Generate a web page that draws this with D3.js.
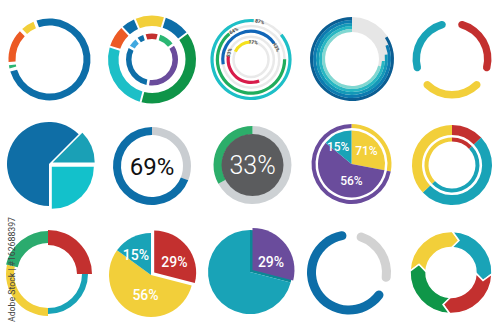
<!DOCTYPE html>
<html>
<head>
<meta charset="utf-8">
<title>Circle chart set</title>
<style>
* { margin: 0; padding: 0; }
body { background: #fff; }
svg { display: block; }
text { font-family: Roboto, "Open Sans", sans-serif; }
</style>
</head>
<body>
<div id="wrapper"></div>
<script src="https://cdn.jsdelivr.net/npm/d3@7/dist/d3.min.js"></script>
<script>

// ---- values (percent unless noted) ----
var ring1Values = [5.5, 76, 1.5, 13.5];            // yellow, blue, green, orange
var ring2OuterValues = [38, 34, 140, 90, 28, 18];   // degrees, clockwise from top
var ring2InnerValues = [28, 35, 130, 105, 20, 15];
var barValues = [87, 64, 43, 33, 17];               // concentric progress arcs
var barStarts = [4, -40, 55, 278, -2];              // degrees where each arc begins
var stepValues = [84, 81, 77, 74, 71];              // stepped bands, outer -> inner
var triValues = [1, 1, 1];
var pieValues = [62.5, 12.5, 25];
var donut69 = [31, 69];
var donut33 = [67, 33];
var splitPie = [28, 58, 14];
var splitRing = [28, 72];
var splitLabels = ['71%', '56%', '15%'];
var doubleRing = [13, 50, 37];
var spiralValues = [25, 25, 28.5, 21.5];
var explodedPie = [29, 56, 15];
var explodedLabels = ['29%', '56%', '15%'];
var quarterPie = [29, 71];
var gaugeValues = [27, 67];
var cycleValues = [25, 25, 25, 25];

// ---- palette ----
var c = {
	blue: '#0d6ea8', yellow: '#f2cf3a', orange: '#ec5a24', green: '#2bb673',
	cyan: '#1dbfc7', dgreen: '#0f9448', red: '#c3302f', purple: '#6a4c9c',
	lblue: '#41a8e0', teal: '#19a3b7', gray: '#cbcfd3'
};

var deg = d3.scaleLinear().domain( [ 0, 360 ] ).range( [ 0, 2 * Math.PI ] );
var turn = d3.scaleLinear().domain( [ 0, 100 ] ).range( [ 0, 2 * Math.PI ] );

var svg = d3.select( '#wrapper' ).append( 'svg' )
	.attr( 'width', 500 )
	.attr( 'height', 334 );
svg.append( 'rect' ).attr( 'width', 500 ).attr( 'height', 334 ).attr( 'fill', '#fff' );

function cell( x, y ) {
	return svg.append( 'g' ).attr( 'transform', 'translate(' + x + ',' + y + ')' );
}

function ring( g, values, colors, o ) {
	var pie = d3.pie().sort( null ).value( function ( d ) { return d; } )
		.startAngle( o.start || 0 )
		.endAngle( ( o.start || 0 ) + 2 * Math.PI )
		.padAngle( o.pad || 0 );
	var arc = d3.arc().innerRadius( o.r0 ).outerRadius( o.r1 ).cornerRadius( o.corner || 0 );
	var arcs = pie( values );
	g.selectAll( null )
		.data( arcs )
		.enter()
		.append( 'path' )
		.attr( 'd', arc )
		.attr( 'fill', function ( d, i ) { return colors[i]; } )
		.attr( 'transform', function ( d, i ) {
			if ( !o.explode || !o.explode[i] ) return null;
			var m = ( d.startAngle + d.endAngle ) / 2;
			return 'translate(' + ( o.explode[i] * Math.sin( m ) ) + ',' + ( -o.explode[i] * Math.cos( m ) ) + ')';
		} );
	return arcs;
}

// label each slice at its middle angle (nudged by shift degrees) at radius r
function labels( g, arcs, texts, r, size, shift ) {
	g.selectAll( null )
		.data( arcs )
		.enter()
		.append( 'text' )
		.attr( 'transform', function ( d, i ) {
			var m = ( d.startAngle + d.endAngle ) / 2 + deg( shift[i] );
			return 'translate(' + ( r[i] * Math.sin( m ) ) + ',' + ( -r[i] * Math.cos( m ) ) + ')';
		} )
		.attr( 'text-anchor', 'middle' )
		.attr( 'dy', '0.36em' )
		.attr( 'fill', '#fff' )
		.style( 'font-size', size + 'px' )
		.style( 'font-weight', 500 )
		.text( function ( d, i ) { return texts[i]; } );
}

// 1. thin segmented ring
var g1 = cell( 49.5, 59.5 );
ring( g1, ring1Values, [ c.yellow, c.blue, c.green, c.orange ], { start: deg( 316 ), r0: 34, r1: 41, pad: deg( 3.5 ) } );

// 2. double segmented ring
var g2 = cell( 152, 59.5 );
ring( g2, ring2OuterValues, [ c.yellow, c.blue, c.dgreen, c.cyan, c.orange, c.blue ], { start: deg( 337 ), r0: 33.5, r1: 44, pad: deg( 2 ) } );
ring( g2, ring2InnerValues, [ c.red, c.green, c.purple, c.blue, c.lblue, c.blue ], { start: deg( 343 ), r0: 20.5, r1: 26, pad: deg( 4.5 ) } );

// 3. concentric progress arcs
var g3 = cell( 251, 59.5 );
var barR = d3.scalePoint().domain( d3.range( barValues.length ) ).range( [ 39, 17.5 ] );
var barColors = [ c.cyan, '#20ad5d', '#1166b8', '#d81b4a', '#f5e11c' ];
g3.selectAll( 'circle' )
	.data( barValues )
	.enter()
	.append( 'circle' )
	.attr( 'r', function ( d, i ) { return barR( i ); } )
	.attr( 'fill', 'none' )
	.attr( 'stroke', '#e9e9e9' )
	.attr( 'stroke-width', 2.5 );
g3.selectAll( 'path' )
	.data( barValues )
	.enter()
	.append( 'path' )
	.attr( 'd', function ( d, i ) {
		return d3.arc()
			.innerRadius( barR( i ) - 1.6 )
			.outerRadius( barR( i ) + 1.6 )
			.startAngle( deg( barStarts[i] ) - turn( d ) )
			.endAngle( deg( barStarts[i] ) )();
	} )
	.attr( 'fill', function ( d, i ) { return barColors[i]; } );
g3.selectAll( 'text' )
	.data( barValues )
	.enter()
	.append( 'text' )
	.attr( 'transform', function ( d, i ) {
		var a = barStarts[i] + 9, r = barR( i );
		var x = r * Math.sin( deg( a ) ), y = -r * Math.cos( deg( a ) );
		return 'translate(' + x + ',' + y + ') rotate(' + a + ')';
	} )
	.attr( 'text-anchor', 'middle' )
	.attr( 'dy', '0.35em' )
	.attr( 'fill', '#444' )
	.style( 'font-size', '5px' )
	.style( 'font-weight', 700 )
	.text( function ( d ) { return d + '%'; } );

// 4. stepped bands
var g4 = cell( 352, 59 );
var stepColors = [ '#0b5e93', '#0d7bb0', '#1398b8', '#27b7c3', '#80d8d2' ];
var stepR = d3.scaleLinear().domain( [ 0, stepValues.length ] ).range( [ 42, 27 ] );
g4.append( 'path' )
	.attr( 'd', d3.arc().innerRadius( 27 ).outerRadius( 42 ).startAngle( 0 ).endAngle( 2 * Math.PI ) )
	.attr( 'fill', '#e6e6e6' );
g4.selectAll( null )
	.data( stepValues )
	.enter()
	.append( 'path' )
	.attr( 'd', function ( d, i ) {
		return d3.arc()
			.innerRadius( stepR( i + 1 ) )
			.outerRadius( stepR( i ) )
			.startAngle( turn( 100 - d ) )
			.endAngle( turn( 100 ) )();
	} )
	.attr( 'fill', function ( d, i ) { return stepColors[i]; } );

// 5. three rounded arcs
var g5 = cell( 452, 59 );
ring( g5, triValues, [ c.teal, c.red, c.yellow ], { start: deg( -120 ), r0: 32, r1: 39.5, pad: deg( 14 ), corner: 3.7 } );

// 6. exploded pie
var g6 = cell( 49, 164 );
ring( g6, pieValues, [ '#0f6ea6', '#1aa0b6', '#13c1cb' ], { start: deg( 180 ), r0: 0, r1: 42, explode: [ 0, 4, 4 ] } );

// 7. 69% donut
var g7 = cell( 152, 166 );
ring( g7, donut69, [ '#c9cdd1', c.blue ], { start: 0, r0: 31, r1: 39 } );
g7.append( 'text' )
	.attr( 'text-anchor', 'middle' )
	.attr( 'dy', '0.36em' )
	.attr( 'fill', '#111' )
	.style( 'font-size', '24px' )
	.text( donut69[1] + '%' );

// 8. 33% donut with dark centre
var g8 = cell( 252.5, 165 );
ring( g8, donut33, [ '#cdd1d4', '#2cae6a' ], { start: 0, r0: 30.5, r1: 39 } );
g8.append( 'circle' ).attr( 'r', 31 ).attr( 'fill', '#5b5c5e' );
g8.append( 'text' )
	.attr( 'text-anchor', 'middle' )
	.attr( 'dy', '0.36em' )
	.attr( 'fill', '#fff' )
	.style( 'font-size', '25px' )
	.style( 'font-weight', 300 )
	.text( donut33[1] + '%' );

// 9. pie inside ring
var g9 = cell( 351.5, 164 );
ring( g9, splitRing, [ c.yellow, c.purple ], { start: 0, r0: 36, r1: 40 } );
var a9 = ring( g9, splitPie, [ c.yellow, c.purple, c.teal ], { start: 0, r0: 0, r1: 33.5 } );
labels( g9, a9, splitLabels, [ 20, 17, 22 ], 12, [ -2, -25, -12 ] );

// 10. ring with inner ring
var g10 = cell( 452, 165 );
ring( g10, doubleRing, [ c.red, c.teal, c.yellow ], { start: 0, r0: 30, r1: 40 } );
ring( g10, doubleRing, [ c.red, c.teal, c.yellow ], { start: 0, r0: 23.5, r1: 27.5 } );

// 11. ring with uneven thickness
var g11 = cell( 48, 274 );
var spiralR0 = [ 29, 34, 34, 31 ], spiralR1 = [ 44, 40, 42, 43 ];
var spiralColors = [ c.red, c.teal, c.yellow, '#2bab6e' ];
d3.pie().sort( null ).value( function ( d ) { return d; } )( spiralValues ).forEach( function ( d, i ) {
	g11.append( 'path' )
		.attr( 'd', d3.arc().innerRadius( spiralR0[i] ).outerRadius( spiralR1[i] )( d ) )
		.attr( 'fill', spiralColors[i] );
} );

// 12. exploded pie with labels
var g12 = cell( 151, 275 );
var a12 = ring( g12, explodedPie, [ c.red, c.yellow, c.teal ], { start: 0, r0: 0, r1: 42, explode: [ 4, 0, 0 ] } );
labels( g12, a12, explodedLabels, [ 27, 21, 25 ], 14, [ 8, -10, -10 ] );

// 13. pie with lifted quarter
var g13 = cell( 250, 272 );
var a13 = ring( g13, quarterPie, [ '#0b8896', c.teal ], { start: 0, r0: 0, r1: 42 } );
g13.append( 'path' )
	.attr( 'd', d3.arc().innerRadius( 0 ).outerRadius( 42 )( a13[0] ) )
	.attr( 'fill', c.purple )
	.attr( 'transform', 'translate(2.5,-2)' );
g13.append( 'text' )
	.attr( 'x', 21 ).attr( 'y', -10 )
	.attr( 'text-anchor', 'middle' )
	.attr( 'dy', '0.36em' )
	.attr( 'fill', '#fff' )
	.style( 'font-size', '14px' )
	.style( 'font-weight', 500 )
	.text( quarterPie[0] + '%' );

// 14. gauge with rounded ends
var g14 = cell( 349, 272.5 );
ring( g14, gaugeValues, [ '#d2d2d2', c.blue ], { start: deg( 4 ), r0: 33, r1: 42, pad: deg( 11 ), corner: 4.5 } );

// 15. cycle arrows
var g15 = cell( 451, 272.5 );
var cycleColors = [ c.yellow, c.teal, c.red, '#0f9648' ];
function arrowPath( a0, a1, ri, ro, tip ) {
	var p = d3.path(), rm = ( ri + ro ) / 2;
	function pt( r, a ) { return [ r * Math.sin( a ), -r * Math.cos( a ) ]; }
	var s = pt( ro, a0 );
	p.moveTo( s[0], s[1] );
	p.arc( 0, 0, ro, a0 - Math.PI / 2, a1 - Math.PI / 2 );
	var t = pt( rm, a1 + tip );
	p.lineTo( t[0], t[1] );
	var e = pt( ri, a1 );
	p.lineTo( e[0], e[1] );
	p.arc( 0, 0, ri, a1 - Math.PI / 2, a0 - Math.PI / 2, true );
	var n = pt( rm, a0 + tip );
	p.lineTo( n[0], n[1] );
	p.closePath();
	return p.toString();
}
d3.pie().sort( null ).value( function ( d ) { return d; } )
	.startAngle( deg( -88 ) ).endAngle( deg( 272 ) )( cycleValues )
	.forEach( function ( d, i ) {
		g15.append( 'path' )
			.attr( 'd', arrowPath( d.startAngle, d.endAngle, 25, 41, deg( 12 ) ) )
			.attr( 'fill', cycleColors[i] )
			.attr( 'stroke', '#fff' )
			.attr( 'stroke-width', 1.5 );
	} );

// stock id along the left edge
svg.append( 'text' )
	.attr( 'transform', 'translate(15,322) rotate(-90)' )
	.attr( 'fill', '#444' )
	.attr( 'textLength', 105 )
	.attr( 'lengthAdjust', 'spacingAndGlyphs' )
	.style( 'font-size', '9.5px' )
	.text( 'Adobe Stock | #162688397' );

</script>
</body>
</html>
